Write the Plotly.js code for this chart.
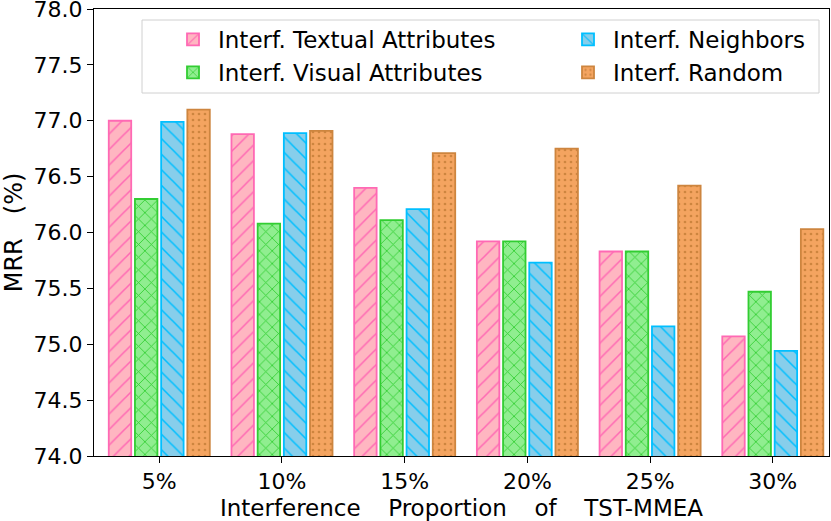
<!DOCTYPE html>
<html>
<head>
<meta charset="utf-8">
<script src="https://cdn.plot.ly/plotly-3.0.1.min.js"></script>
<style>html,body{margin:0;padding:0;background:#fff;}#chart{width:831px;height:521px;}</style>
</head>
<body>
<div id="chart"></div>
<script>
const categories = ['5%', '10%', '15%', '20%', '25%', '30%'];
const seriesNames = ['Interf. Textual Attributes', 'Interf. Visual Attributes', 'Interf. Neighbors', 'Interf. Random'];
const textualValues = [77.00, 76.88, 76.40, 75.92, 75.83, 75.07];
const visualValues = [76.30, 76.08, 76.11, 75.92, 75.83, 75.47];
const neighborsValues = [76.99, 76.89, 76.21, 75.73, 75.16, 74.94];
const randomValues = [77.10, 76.91, 76.71, 76.75, 76.42, 76.03];
const yTickValues = [74.0, 74.5, 75.0, 75.5, 76.0, 76.5, 77.0, 77.5, 78.0];

const FONT = 'DejaVu Sans, Liberation Sans, sans-serif';
const styles = [
  {fill: '#FFB6C1', edge: '#FF69B4', shape: '/', size: 11, solidity: 0.14, legend: 'legend'},
  {fill: '#90EE90', edge: '#32CD32', shape: 'x', size: 9, solidity: 0.18, legend: 'legend'},
  {fill: '#87CEEB', edge: '#00BFFF', shape: '\\', size: 11, solidity: 0.14, legend: 'legend2'},
  {fill: '#F4A460', edge: '#CD853F', shape: '.', size: 6, solidity: 0.16, legend: 'legend2'}
];
const allValues = [textualValues, visualValues, neighborsValues, randomValues];
const xIdx = categories.map((c, i) => i);
const slot = 0.2135, barW = 0.183;

const traces = allValues.map((vals, i) => ({
  type: 'bar',
  name: seriesNames[i],
  x: xIdx,
  y: vals,
  width: barW,
  offset: -2 * slot + i * slot + (slot - barW) / 2,
  legend: styles[i].legend,
  marker: {
    color: styles[i].fill,
    line: {color: styles[i].edge, width: 1.8},
    pattern: {
      shape: styles[i].shape,
      fgcolor: styles[i].edge,
      bgcolor: styles[i].fill,
      size: styles[i].size,
      solidity: styles[i].solidity,
      fillmode: 'replace'
    }
  },
  hoverinfo: 'skip'
}));

const legendCommon = {
  font: {family: FONT, size: 23, color: '#000'},
  bgcolor: 'rgba(0,0,0,0)',
  borderwidth: 0,
  xref: 'paper', yref: 'paper',
  xanchor: 'left', yanchor: 'top',
  tracegroupgap: 0,
  itemwidth: 40
};

const EM = '\u2003\u2009';

const layout = {
  width: 831, height: 521,
  margin: {l: 94, r: 2, t: 9, b: 65, autoexpand: false},
  paper_bgcolor: '#fff', plot_bgcolor: '#fff',
  barmode: 'overlay',
  showlegend: true,
  font: {family: FONT, color: '#000'},
  xaxis: {
    range: [-0.532, 5.458],
    tickmode: 'array', tickvals: xIdx, ticktext: categories,
    ticks: 'outside', ticklen: 6, tickwidth: 1, tickcolor: '#000',
    showgrid: false, zeroline: false,
    showline: true, linecolor: '#000', linewidth: 1, mirror: true,
    tickfont: {family: FONT, size: 22, color: '#000'},
    title: {text: 'Interference' + EM + 'Proportion' + EM + 'of' + EM + 'TST-MMEA', font: {family: FONT, size: 23, color: '#000'}, standoff: 6}
  },
  yaxis: {
    range: [74, 78],
    tickmode: 'array', tickvals: yTickValues, ticktext: yTickValues.map(v => v.toFixed(1)),
    ticks: 'outside', ticklen: 6, tickwidth: 1, tickcolor: '#000',
    ticklabeloverflow: 'allow',
    showgrid: false, zeroline: false,
    showline: true, linecolor: '#000', linewidth: 1, mirror: true,
    tickfont: {family: FONT, size: 22, color: '#000'},
    title: {text: 'MRR\u2003(%)', font: {family: FONT, size: 24, color: '#000'}, standoff: 8}
  },
  legend: Object.assign({}, legendCommon, {x: (168 - 94) / 735, y: (456 - 18) / 447}),
  legend2: Object.assign({}, legendCommon, {x: (563 - 94) / 735, y: (456 - 18) / 447}),
  shapes: [{
    type: 'rect', xref: 'paper', yref: 'paper', layer: 'above',
    x0: (142 - 94) / 735, x1: (819 - 94) / 735,
    y0: (456 - 93) / 447, y1: (456 - 20) / 447,
    fillcolor: 'rgba(255,255,255,0.8)',
    line: {color: '#d0d0d0', width: 1}
  }]
};

Plotly.newPlot('chart', traces, layout, {displayModeBar: false, staticPlot: true});
</script>
</body>
</html>
